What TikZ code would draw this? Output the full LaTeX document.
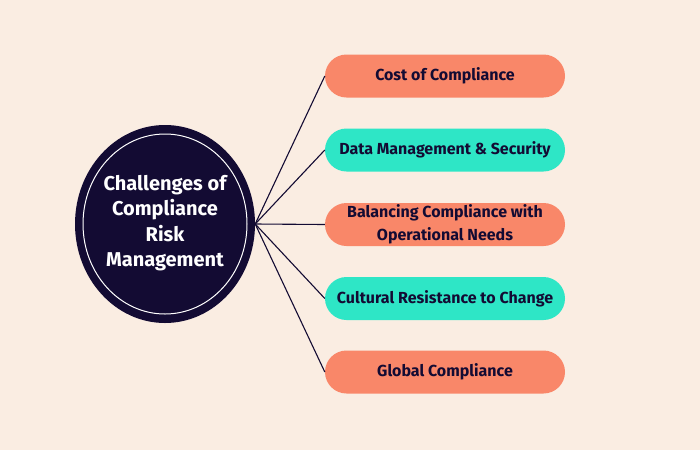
\documentclass[tikz,border=0pt]{standalone}
\usepackage{fontspec}
\setmainfont{Fira Sans}
\usetikzlibrary{shapes.geometric}
\definecolor{bg}{HTML}{FAEDE2}
\definecolor{navy}{HTML}{130B33}
\definecolor{salmon}{HTML}{F98769}
\definecolor{teal}{HTML}{2EE6C6}
\tikzset{
  pill/.style={rounded corners=21.5pt, minimum width=240pt, minimum height=43pt, inner sep=0pt,
    align=center, text=navy, font=\fontsize{16}{22.5}\selectfont\bfseries},
  salmonpill/.style={pill, fill=salmon},
  tealpill/.style={pill, fill=teal},
  link/.style={draw=navy, line width=1.1pt}
}
\begin{document}
\begin{tikzpicture}[x=1pt,y=-1pt]
\fill[bg] (0,0) rectangle (700,450);
\useasboundingbox (0,0) rectangle (700,450);
\node[ellipse, fill=navy, minimum width=180pt, minimum height=198pt, inner sep=0pt] (hub) at (165,224) {};
\draw[white, line width=1pt] (165,224) ellipse [x radius=82pt, y radius=90pt];
\node[text=white, align=center, font=\fontsize{20}{25.5}\selectfont\bfseries] (title) at (165,223)
  {Challenges of\\Compliance\\Risk\\Management};
\node[salmonpill] (p1) at (445,76) {Cost of Compliance};
\node[tealpill] (p2) at (445,150) {Data Management \& Security};
\node[salmonpill] (p3) at (445,224.5) {Balancing Compliance with\\Operational Needs};
\node[tealpill] (p4) at (445,298.5) {Cultural Resistance to Change};
\node[salmonpill] (p5) at (445,372) {Global Compliance};
\coordinate (o) at (hub.east);
\foreach \p in {p1,p2,p3,p4,p5}{
  \draw[link] (o) -- (\p.west);
}
\end{tikzpicture}
\end{document}
